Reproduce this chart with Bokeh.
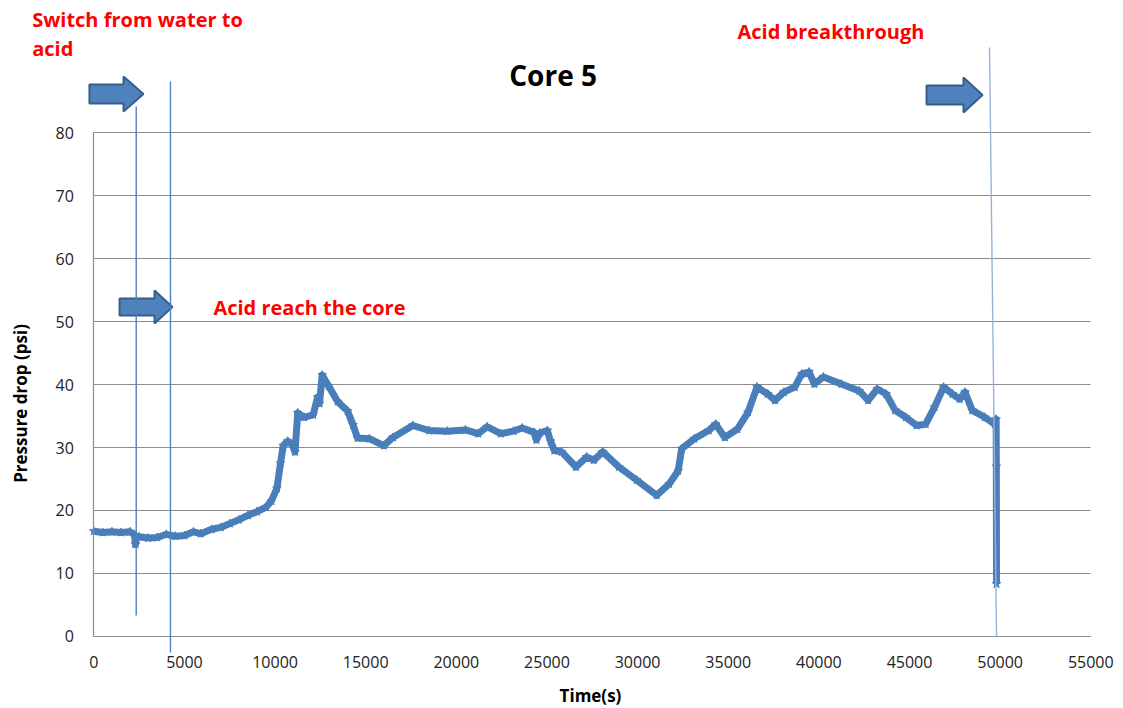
import math
from bokeh.plotting import figure
from bokeh.models import Range1d, FixedTicker, Label, Arrow, BoxAnnotation
from bokeh.embed import file_html
from bokeh.resources import INLINE

# ---- data ----
time_s = [0, 500, 1000, 1500, 2000, 2250, 2300, 2350, 2500, 3000, 3500, 4000, 4500,
          5000, 5500, 5900, 6500, 7000, 7500, 8000, 8500, 9000, 9500, 9800, 10100,
          10300, 10450, 10700, 11000, 11100, 11250, 11600, 12100, 12350, 12450, 12600,
          12950, 13450, 14000, 14300, 14550, 15200, 16000, 16500, 17600, 18500, 19500,
          20500, 21200, 21700, 22450, 23150, 23630, 24300, 24420, 24600, 25020, 25200,
          25410, 25810, 26600, 27190, 27590, 28080, 28970, 29960, 31050, 31740, 32240,
          32430, 33130, 33920, 34310, 34810, 35500, 36090, 36590, 37180, 37580, 38070,
          38670, 39060, 39460, 39750, 40250, 41240, 42230, 42720, 43220, 43710, 44210,
          44800, 45390, 45890, 46380, 46880, 47370, 47770, 48060, 48460, 49150, 49700,
          49780, 49790, 49800]
pressure_psi = [16.7, 16.5, 16.6, 16.5, 16.6, 16.1, 14.6, 15.8, 15.8, 15.6, 15.7, 16.2, 15.9,
                16.0, 16.6, 16.3, 17.0, 17.3, 17.9, 18.5, 19.2, 19.8, 20.5, 21.5, 23.5,
                27.5, 30.3, 31.0, 30.3, 29.3, 35.5, 34.8, 35.2, 38.0, 37.0, 41.5,
                39.8, 37.3, 35.8, 33.6, 31.5, 31.4, 30.3, 31.6, 33.5, 32.7, 32.6,
                32.8, 32.2, 33.3, 32.2, 32.6, 33.1, 32.4, 31.2, 32.3, 32.7, 31.0,
                29.5, 29.3, 26.9, 28.5, 28.0, 29.3, 26.9, 24.8, 22.4, 24.2, 26.3,
                29.8, 31.4, 32.7, 33.7, 31.6, 32.9, 35.6, 39.6, 38.5, 37.5, 38.8,
                39.6, 41.7, 42.0, 40.1, 41.2, 40.1, 39.0, 37.5, 39.3, 38.5, 35.9,
                34.8, 33.5, 33.7, 36.4, 39.6, 38.5, 37.7, 38.8, 35.9, 34.8, 33.7,
                34.5, 27.0, 8.3]

x_ticks = list(range(0, 55001, 5000))
y_ticks = list(range(0, 81, 10))

# annotation texts: (text, x, centre y)
notes = [("Switch from water to", -3400, 98.0),
         ("acid", -3400, 93.5),
         ("Acid breakthrough", 35510, 96.1),
         ("Acid reach the core", 6600, 52.3)]
# block arrows: (tail x, head base x, tip x, centre y, shaft half, head half)
block_arrows = [(-240, 1640, 2740, 86.2, 1.51, 2.78),
                (1420, 3350, 4340, 52.34, 1.35, 2.62),
                (45940, 47980, 49030, 86.04, 1.51, 2.78)]
# marker lines: (x0, y0, x1, y1, colour)
marker_lines = [(2340, 3.3, 2340, 84.2, "#4F81BD"),
                (4230, -2.6, 4230, 88.2, "#4F81BD"),
                (49415, 93.6, 49800, 0, "#95B3D7")]

FONT = "Open Sans"
GRID = "#8c8c8c"

p = figure(width=1123, height=708, output_backend="svg", toolbar_location=None,
           x_range=Range1d(-5147, 56806), y_range=Range1d(-11.49, 101.06),
           min_border_left=0, min_border_right=0, min_border_top=0,
           min_border_bottom=0)
p.outline_line_color = None
p.background_fill_color = "white"
p.xgrid.visible = False
yg = p.ygrid[0]
yg.grid_line_color = GRID
yg.grid_line_width = 1.2

p.yaxis.ticker = FixedTicker(ticks=y_ticks)
p.yaxis.bounds = (0, 80)
p.yaxis.fixed_location = 0
p.xaxis.ticker = FixedTicker(ticks=x_ticks)
p.xaxis.bounds = (0, 55000)
p.xaxis.fixed_location = 0
for ax in (p.xaxis[0], p.yaxis[0]):
    ax.axis_line_color = GRID
    ax.axis_line_width = 1.2
    ax.major_tick_out = 0
    ax.major_tick_in = 0
    ax.minor_tick_out = 0
    ax.minor_tick_in = 0
    ax.major_label_text_font = FONT
    ax.major_label_text_font_size = "16px"
    ax.major_label_text_color = "#222222"
p.yaxis.major_label_standoff = 20
p.xaxis.major_label_standoff = 20

if "cross_bounds" in yg.properties():
    yg.cross_bounds = (0, 55000)
else:
    p.add_layout(BoxAnnotation(right=0, fill_color="white", fill_alpha=1,
                               line_alpha=0, level="glyph"))

# marker lines
for x0, y0, x1, y1, c in marker_lines:
    p.add_layout(Arrow(x_start=x0, y_start=y0, x_end=x1, y_end=y1, end=None,
                       line_color=c, line_width=1.4))

# block arrows
axs, ays = [], []
for tail, base, tip, cy, sh, hh in block_arrows:
    axs.append([tail, base, base, tip, base, base, tail])
    ays.append([cy - sh, cy - sh, cy - hh, cy, cy + hh, cy + sh, cy + sh])
p.patches(axs, ays, fill_color="#4F81BD", line_color="#385D8A", line_width=2)

# data
p.line(time_s, pressure_psi, line_width=7, color="#4A7EBB", line_join="round")
p.scatter(time_s, pressure_psi, marker="star", size=9, color="#4A7EBB")

for txt, x, y in notes:
    p.add_layout(Label(x=x, y=y, text=txt, text_align="left", text_baseline="middle",
                       text_font=FONT, text_font_style="bold", text_font_size="20px",
                       text_color="#FF0000"))
p.add_layout(Label(x=25340, y=89.15, text="Core 5", text_align="center",
                   text_baseline="middle", text_font=FONT, text_font_style="bold",
                   text_font_size="28px", text_color="black"))
# axis titles
p.add_layout(Label(x=-4044, y=37.0, text="Pressure drop (psi)", angle=math.pi / 2,
                   text_align="center", text_baseline="middle", text_font=FONT,
                   text_font_style="bold", text_font_size="17px", text_color="black"))
p.add_layout(Label(x=27400, y=-9.5, text="Time(s)", text_align="center",
                   text_baseline="middle", text_font=FONT, text_font_style="bold",
                   text_font_size="17px", text_color="black"))

open("out.html", "w").write(file_html(p, INLINE))
